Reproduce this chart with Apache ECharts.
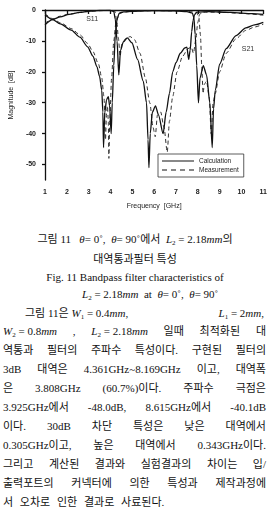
<!DOCTYPE html>
<html><head><meta charset="utf-8">
<script src="https://cdn.jsdelivr.net/npm/echarts@6/dist/echarts.min.js"></script>
<style>
html,body{margin:0;padding:0;background:#fff;width:270px;height:508px;overflow:hidden;}
#chart{position:absolute;left:0;top:0;width:270px;height:215px;}
.t{position:absolute;font-family:"Liberation Serif","Noto Sans CJK KR",serif;font-size:11px;color:#111;white-space:nowrap;line-height:14px;}
.j{left:3px;width:263px;text-align:justify;text-align-last:justify;white-space:normal;}
.c{left:0;width:270px;text-align:center;}
.g{display:inline-block;white-space:nowrap;}
i{font-style:italic;}
sub{font-size:7px;vertical-align:-2px;line-height:0;}
</style></head><body>
<div id="chart"></div>
<div class="t c" style="top:232px;">그림 11 &nbsp; <i>θ</i>= 0˚, &nbsp;<i>θ</i>= 90˚에서 &nbsp;<i>L</i><sub>2</sub> = 2.18<i>mm</i>의</div>
<div class="t c" style="top:252px;">대역통과필터 특성</div>
<div class="t c" style="top:270px;">Fig. 11 Bandpass filter characteristics of</div>
<div class="t" style="top:287px;left:82px;"><i>L</i><sub>2</sub> = 2.18<i>mm</i> &nbsp;at &nbsp;<i>θ</i>= 0˚, &nbsp;<i>θ</i>= 90˚</div>
<div class="t" style="top:306px;left:25px;width:239px;display:flex;justify-content:space-between;"><span>그림 11은 <i>W</i><sub>1</sub> = 0.4<i>mm</i>,</span><span><i>L</i><sub>1</sub> = 2<i>mm</i>,</span></div>
<div class="t j" style="top:324px;"><span class="g"><i>W</i><sub>2</sub> = 0.8<i>mm</i></span> , <span class="g"><i>L</i><sub>2</sub> = 2.18<i>mm</i></span> 일때 최적화된 대</div>
<div class="t j" style="top:343px;">역통과 필터의 주파수 특성이다. 구현된 필터의</div>
<div class="t j" style="top:362px;">3dB 대역은 4.361GHz~8.169GHz 이고, 대역폭</div>
<div class="t j" style="top:381px;">은 3.808GHz (60.7%)이다. 주파수 극점은</div>
<div class="t j" style="top:400px;">3.925GHz에서 -48.0dB, 8.615GHz에서 -40.1dB</div>
<div class="t j" style="top:419px;">이다. 30dB 차단 특성은 낮은 대역에서</div>
<div class="t j" style="top:438px;">0.305GHz이고, 높은 대역에서 0.343GHz이다.</div>
<div class="t j" style="top:457px;">그리고 계산된 결과와 실험결과의 차이는 입/</div>
<div class="t j" style="top:476px;">출력포트의 커넥터에 의한 특성과 제작과정에</div>
<div class="t" style="top:495px;left:3px;word-spacing:4px;">서 오차로 인한 결과로 사료된다.</div>
<script>
// ---- data (frequency in GHz, magnitude in dB) ----
const xTicks = [1,2,3,4,5,6,7,8,9,10,11];
const yTicks = [0,-10,-20,-30,-40,-50];

const s21CalcFreq = [1.0,1.35,1.7,2.2,2.6,2.95,3.2,3.38,3.5,3.6,3.65,3.68,3.74,3.82,3.9,3.96,4.03,4.08,4.15,4.22,4.3,4.4,4.6,5.0,6.0,7.0,7.5,7.75,7.82,7.88,7.95,8.03,8.1,8.25,8.4,8.55,8.66,8.72,8.8,9.0,9.3,9.75,10.2,10.6,11.0];
const s21CalcDb   = [-1.5,-3.1,-4.5,-6.5,-8.8,-11.9,-15,-18.4,-21.5,-26,-33,-44.5,-33,-29,-28,-31,-40,-30,-18,-8,-3,-1,-0.6,-0.4,-0.2,-0.3,-0.5,-1,-2.5,-8,-18,-30,-22,-18,-21,-30,-44.5,-32,-26,-17.5,-12.5,-8.3,-5.8,-4.8,-4.0];

const s11CalcFreq = [1.0,1.35,1.7,2.1,2.6,3.0,3.5,4.0,4.15,4.22,4.3,4.38,4.46,4.59,4.77,4.98,5.24,5.5,5.65,5.72,5.76,5.82,5.92,6.06,6.2,6.41,6.55,6.7,6.85,7.0,7.2,7.4,7.5,7.58,7.65,7.72,7.78,7.85,7.95,8.5,9.5,10.5,11.0];
const s11CalcDb   = [-4.8,-3.1,-2.2,-1.4,-0.8,-0.4,-0.15,-0.1,-0.5,-3,-10,-21,-13,-10.3,-9,-10.6,-16,-23,-30,-42,-51,-40,-33,-31,-34,-40,-33,-27,-20,-17,-14,-12.3,-12,-16,-13,-7,-3.5,-1.5,-0.7,-0.5,-0.8,-1.2,-1.4];

const s21MeasFreq = [1.0,1.35,1.7,2.2,2.6,2.95,3.2,3.45,3.6,3.7,3.77,3.82,3.86,3.9,3.925,3.97,4.05,4.15,4.25,4.4,4.6,5.0,6.0,7.0,7.6,7.95,8.05,8.12,8.18,8.24,8.3,8.4,8.52,8.615,8.7,8.8,9.0,9.3,9.75,10.2,10.6,11.0];
const s21MeasDb   = [-1.2,-2.8,-4.1,-6.0,-8.0,-10.8,-13.5,-17.5,-22,-28,-42,-33,-31,-36,-48,-35,-22,-10,-4,-1.2,-0.7,-0.4,-0.2,-0.3,-0.5,-0.8,-2.5,-8,-18,-27,-24,-23,-28,-40.1,-30,-27,-20,-14,-9.3,-6.6,-5.5,-4.6];

const s11MeasFreq = [1.0,1.35,1.7,2.1,3.0,4.0,4.2,4.28,4.36,4.44,4.52,4.7,4.9,5.1,5.35,5.6,5.8,5.95,6.05,6.15,6.3,6.45,6.6,6.7,6.85,7.05,7.3,7.55,7.7,7.8,7.9,8.0,8.08,8.2,9.0,10.0,11.0];
const s11MeasDb   = [-4.3,-2.9,-2.0,-1.3,-0.4,-0.1,-0.4,-3,-9,-15,-11,-9.2,-8.6,-9.6,-14,-22,-30,-38,-41,-34,-33,-38,-46,-36,-28,-20,-15,-12.5,-12,-14,-10,-4,-1.5,-0.7,-0.7,-1.1,-1.7];

const curveNames = ['S11','S21'];
const curveLabelFreq = [3.16, 10.3];
const curveLabelDb = [-2.9, -12.6];
const legendNames = ['Calculation','Measurement'];

function zip(a,b){return a.map((v,i)=>[v,b[i]]);}

const chart = echarts.init(document.getElementById('chart'), null, {renderer:'canvas'});
const axisFont = {fontFamily:'Liberation Sans, Arial, sans-serif', fontSize:7, fontWeight:'bold', color:'#222'};
const calcStyle = {color:'#111', width:1.3, type:'solid'};
const measStyle = {color:'#333', width:1, type:[4,3]};
const legendIcons = ['path://M0,0h32v1h-32z', 'path://M0,0h5v1h-5z M9,0h5v1h-5z M18,0h5v1h-5z M27,0h5v1h-5z'];

function mk(name, data, style, labelIdx){
  const s = {name:name, type:'line', data:data, symbol:'none', smooth:0.25, smoothMonotone:'x',
    lineStyle:style, itemStyle:{color:style.color}, animation:false, z:2};
  if(labelIdx!=null){
    s.markPoint = {symbol:'circle', symbolSize:0, silent:true, animation:false,
      label:{show:true, position:'inside', formatter:curveNames[labelIdx], fontFamily:'Liberation Sans, Arial', fontSize:7, color:'#333'},
      data:[{coord:[curveLabelFreq[labelIdx], curveLabelDb[labelIdx]]}]};
  }
  return s;
}

chart.setOption({
  animation:false,
  grid:{left:35, right:4, top:10, bottom:35},
  legend:{
    data:legendNames.map((n,i)=>({name:n, icon:legendIcons[i], itemStyle:{color:'#111', borderWidth:0}})),
    orient:'vertical', left:158, top:154,
    borderColor:'#333', borderWidth:0.8, padding:[3,5,3,4], itemGap:1,
    itemWidth:32, itemHeight:1.3,
    textStyle:{fontFamily:'Liberation Sans, Arial', fontSize:6.5, color:'#222', lineHeight:8},
    backgroundColor:'#fff'
  },
  xAxis:{type:'value', min:1, max:11, interval:1,
    name:'Frequency  [GHz]', nameLocation:'middle', nameGap:23,
    nameTextStyle:{fontFamily:'Liberation Sans, Arial', fontSize:7, color:'#222'},
    axisLine:{lineStyle:{color:'#111', width:1.3}},
    axisTick:{show:true, inside:false, length:4, lineStyle:{color:'#111', width:1.3}},
    axisLabel:Object.assign({margin:9, customValues:xTicks}, axisFont),
    splitLine:{show:false}
  },
  yAxis:{type:'value', min:-55, max:0,
    name:'Magnitude  [dB]', nameLocation:'middle', nameGap:25,
    nameTextStyle:{fontFamily:'Liberation Sans, Arial', fontSize:7, color:'#222'},
    axisLine:{show:true, lineStyle:{color:'#111', width:1.3}},
    axisTick:{show:true, inside:false, length:3, customValues:yTicks, lineStyle:{color:'#111', width:1.3}},
    axisLabel:Object.assign({margin:9, customValues:yTicks}, axisFont),
    splitLine:{show:false}
  },
  series:[
    mk('Measurement', zip(s11MeasFreq, s11MeasDb), measStyle),
    mk('Measurement', zip(s21MeasFreq, s21MeasDb), measStyle),
    mk('Calculation', zip(s11CalcFreq, s11CalcDb), calcStyle, 0),
    mk('Calculation', zip(s21CalcFreq, s21CalcDb), calcStyle, 1)
  ]
});
</script>
</body></html>
